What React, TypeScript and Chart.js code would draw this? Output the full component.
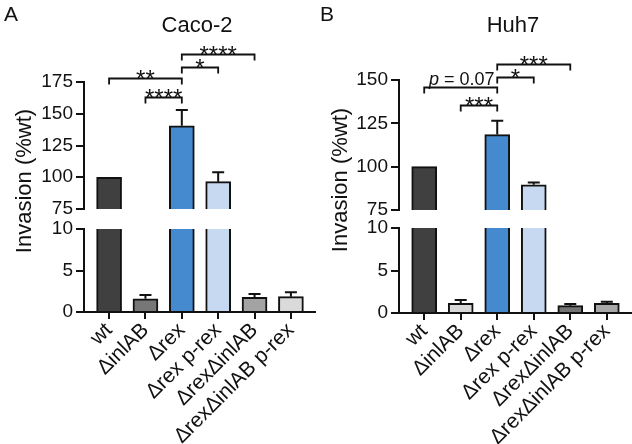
import React, { useEffect, useRef } from 'react';
import { Chart, registerables } from 'chart.js';

Chart.register(...registerables);

// ---------- data ----------
const categories = ['wt', 'ΔinlAB', 'Δrex', 'Δrex p-rex', 'ΔrexΔinlAB', 'ΔrexΔinlAB p-rex'];

const cacoValues = [100, 1.6, 140.5, 96.5, 1.76, 1.85];
const cacoErrors = [0, 0.45, 12.5, 7.4, 0.41, 0.52];
const huhValues = [100, 1.14, 118.5, 89.5, 0.86, 1.13];
const huhErrors = [0, 0.39, 8.0, 1.3, 0.2, 0.2];

const cacoColors = ['#404040', '#777777', '#4589cf', '#c7d9f1', '#a3a3a3', '#dadada'];
const huhColors = ['#404040', '#d8d8d8', '#4589cf', '#c7d9f1', '#747474', '#a8a8a8'];

const cacoComparisons = [
  { from: 0, to: 2, level: 178, label: '**' },
  { from: 1, to: 2, level: 163, label: '****' },
  { from: 2, to: 3, level: 187, label: '*' },
  { from: 2, to: 4, level: 197, label: '****' },
];
const huhComparisons = [
  { from: 0, to: 2, level: 146, label: 'p = 0.07' },
  { from: 1, to: 2, level: 135.5, label: '***' },
  { from: 2, to: 3, level: 151.5, label: '*' },
  { from: 2, to: 4, level: 159.5, label: '***' },
];

const cacoUpperTicks = [75, 100, 125, 150, 175];
const huhUpperTicks = [75, 100, 125, 150];
const lowerTicks = [0, 5, 10];

// ---------- layout ----------
const W = 316;
const H = 444;
const FONT = '"Liberation Sans", Arial, Helvetica, sans-serif';
const X_MIN = -0.69;
const X_MAX = 5.69;
const INK = '#111111';

type Comparison = { from: number; to: number; level: number; label: string };
type Geom = {
  axisLeft: number;
  upperTop: number;
  upperBottom: number;
  lowerTop: number;
  lowerBottom: number;
  titleX: number;
  yTitleX: number;
  yTitleY: number;
};

function yAxis(min: number, max: number, ticks: number[], width: number) {
  return {
    min,
    max,
    afterBuildTicks: (s: any) => {
      s.ticks = ticks.map((v) => ({ value: v }));
    },
    afterFit: (s: any) => {
      s.width = width;
      s.paddingTop = 0;
      s.paddingBottom = 0;
    },
    ticks: { color: INK, font: { family: FONT, size: 19 }, padding: 3 },
    grid: { drawOnChartArea: false, color: INK, lineWidth: 2, tickLength: 8 },
    border: { color: INK, width: 2 },
  };
}

function errorBarPlugin(values: number[], errors: number[]) {
  return {
    id: 'errorBars',
    afterDatasetsDraw(chart: any) {
      const { ctx, chartArea: a, scales } = chart;
      const y = scales.y;
      const meta = chart.getDatasetMeta(0);
      ctx.save();
      ctx.beginPath();
      ctx.rect(a.left, a.top - 1, a.right - a.left, a.bottom - a.top + 1);
      ctx.clip();
      ctx.strokeStyle = INK;
      ctx.lineWidth = 2;
      ctx.beginPath();
      meta.data.forEach((bar: any, i: number) => {
        if (!errors[i]) return;
        const y0 = y.getPixelForValue(values[i]);
        const y1 = y.getPixelForValue(values[i] + errors[i]);
        ctx.moveTo(bar.x, y0);
        ctx.lineTo(bar.x, y1);
        ctx.moveTo(bar.x - 6, y1);
        ctx.lineTo(bar.x + 6, y1);
      });
      ctx.stroke();
      ctx.restore();
    },
  };
}

function annotationPlugin(letter: string, title: string, comparisons: Comparison[], g: Geom) {
  return {
    id: 'annotations',
    afterDraw(chart: any) {
      const { ctx, scales } = chart;
      const x = scales.x;
      const y = scales.y;
      ctx.save();
      ctx.fillStyle = INK;
      ctx.textBaseline = 'alphabetic';
      ctx.textAlign = 'left';
      ctx.font = `21px ${FONT}`;
      ctx.fillText(letter, 4, 21);
      ctx.textAlign = 'center';
      ctx.font = `22px ${FONT}`;
      ctx.fillText(title, g.titleX, 32);

      ctx.save();
      ctx.translate(g.yTitleX, g.yTitleY);
      ctx.rotate(-Math.PI / 2);
      ctx.textBaseline = 'middle';
      ctx.font = `22px ${FONT}`;
      ctx.fillText('Invasion (%wt)', 0, 0);
      ctx.restore();

      ctx.strokeStyle = INK;
      ctx.lineWidth = 1.8;
      comparisons.forEach((c) => {
        const x0 = x.getPixelForValue(c.from);
        const x1 = x.getPixelForValue(c.to);
        const yy = Math.round(y.getPixelForValue(c.level)) + 0.5;
        ctx.beginPath();
        ctx.moveTo(x0, yy + 6);
        ctx.lineTo(x0, yy);
        ctx.lineTo(x1, yy);
        ctx.lineTo(x1, yy + 6);
        ctx.stroke();
        const cx = (x0 + x1) / 2;
        if (c.label.startsWith('p')) {
          const rest = c.label.slice(1);
          ctx.font = `italic 18px ${FONT}`;
          const wp = ctx.measureText('p').width;
          ctx.font = `18px ${FONT}`;
          const wr = ctx.measureText(rest).width;
          const start = cx + 1 - (wp + wr) / 2;
          ctx.textAlign = 'left';
          ctx.font = `italic 18px ${FONT}`;
          ctx.fillText('p', start, yy - 3);
          ctx.font = `18px ${FONT}`;
          ctx.fillText(rest, start + wp, yy - 3);
        } else {
          ctx.textAlign = 'center';
          ctx.font = `24px ${FONT}`;
          ctx.fillText(c.label, cx, yy + 8);
        }
      });
      ctx.restore();
    },
  };
}

type PanelProps = {
  left: number;
  letter: string;
  title: string;
  values: number[];
  errors: number[];
  colors: string[];
  comparisons: Comparison[];
  upperTicks: number[];
  geom: Geom;
};

function Panel(p: PanelProps) {
  const upperRef = useRef<HTMLCanvasElement>(null);
  const lowerRef = useRef<HTMLCanvasElement>(null);

  useEffect(() => {
    const g = p.geom;
    const dataset = () => ({
      data: p.values.map((v, i) => ({ x: i, y: v })),
      backgroundColor: p.colors,
      borderColor: INK,
      borderWidth: 2,
      borderSkipped: 'start',
      barThickness: 25,
      clip: 0,
    });
    const upperMin = p.upperTicks[0];
    const upperMax = p.upperTicks[p.upperTicks.length - 1];

    const upper = new Chart(upperRef.current as HTMLCanvasElement, {
      type: 'bar',
      data: { datasets: [dataset() as any] },
      options: {
        responsive: false,
        animation: false,
        events: [],
        layout: { padding: { top: g.upperTop, bottom: H - g.upperBottom, left: 0, right: 0 } },
        plugins: { legend: { display: false }, tooltip: { enabled: false }, title: { display: false } },
        scales: {
          x: { type: 'linear', min: X_MIN, max: X_MAX, offset: false, display: false, grid: { offset: false } } as any,
          y: yAxis(upperMin, upperMax, p.upperTicks, g.axisLeft) as any,
        },
      },
      plugins: [errorBarPlugin(p.values, p.errors), annotationPlugin(p.letter, p.title, p.comparisons, g)],
    });

    const lower = new Chart(lowerRef.current as HTMLCanvasElement, {
      type: 'bar',
      data: { datasets: [dataset() as any] },
      options: {
        responsive: false,
        animation: false,
        events: [],
        layout: { padding: { top: g.lowerTop, bottom: 0, left: 0, right: 0 } },
        plugins: { legend: { display: false }, tooltip: { enabled: false } },
        scales: {
          x: {
            type: 'linear',
            min: X_MIN,
            max: X_MAX,
            offset: false,
            afterBuildTicks: (s: any) => {
              s.ticks = categories.map((_, i) => ({ value: i }));
            },
            afterFit: (s: any) => {
              s.height = H - g.lowerBottom;
              s.paddingLeft = 0;
              s.paddingRight = 0;
            },
            ticks: {
              autoSkip: false,
              minRotation: 45,
              maxRotation: 45,
              color: INK,
              padding: -1,
              font: { family: FONT, size: 21 },
              callback: (_v: any, i: number) => categories[i],
            },
            grid: { drawOnChartArea: false, offset: false, color: INK, lineWidth: 2, tickLength: 7 },
            border: { color: INK, width: 2 },
          } as any,
          y: yAxis(0, 10, lowerTicks, g.axisLeft) as any,
        },
      },
      plugins: [errorBarPlugin(p.values, p.errors)],
    });

    return () => {
      upper.destroy();
      lower.destroy();
    };
  }, []);

  const cs: React.CSSProperties = { position: 'absolute', left: 0, top: 0, width: W, height: H };
  return (
    <div style={{ position: 'absolute', left: p.left, top: 0, width: W, height: H }}>
      <canvas ref={upperRef} width={W} height={H} style={cs} />
      <canvas ref={lowerRef} width={W} height={H} style={cs} />
    </div>
  );
}

export default function App() {
  return (
    <div style={{ position: 'fixed', left: 0, top: 0, width: 632, height: 444, background: '#ffffff', overflow: 'hidden' }}>
      <Panel
        left={0}
        letter="A"
        title="Caco-2"
        values={cacoValues}
        errors={cacoErrors}
        colors={cacoColors}
        comparisons={cacoComparisons}
        upperTicks={cacoUpperTicks}
        geom={{ axisLeft: 84, upperTop: 82, upperBottom: 209, lowerTop: 229, lowerBottom: 312, titleX: 197, yTitleX: 25, yTitleY: 181 }}
      />
      <Panel
        left={316}
        letter="B"
        title="Huh7"
        values={huhValues}
        errors={huhErrors}
        colors={huhColors}
        comparisons={huhComparisons}
        upperTicks={huhUpperTicks}
        geom={{ axisLeft: 83, upperTop: 80, upperBottom: 210, lowerTop: 228, lowerBottom: 313, titleX: 197, yTitleX: 25, yTitleY: 180 }}
      />
    </div>
  );
}
